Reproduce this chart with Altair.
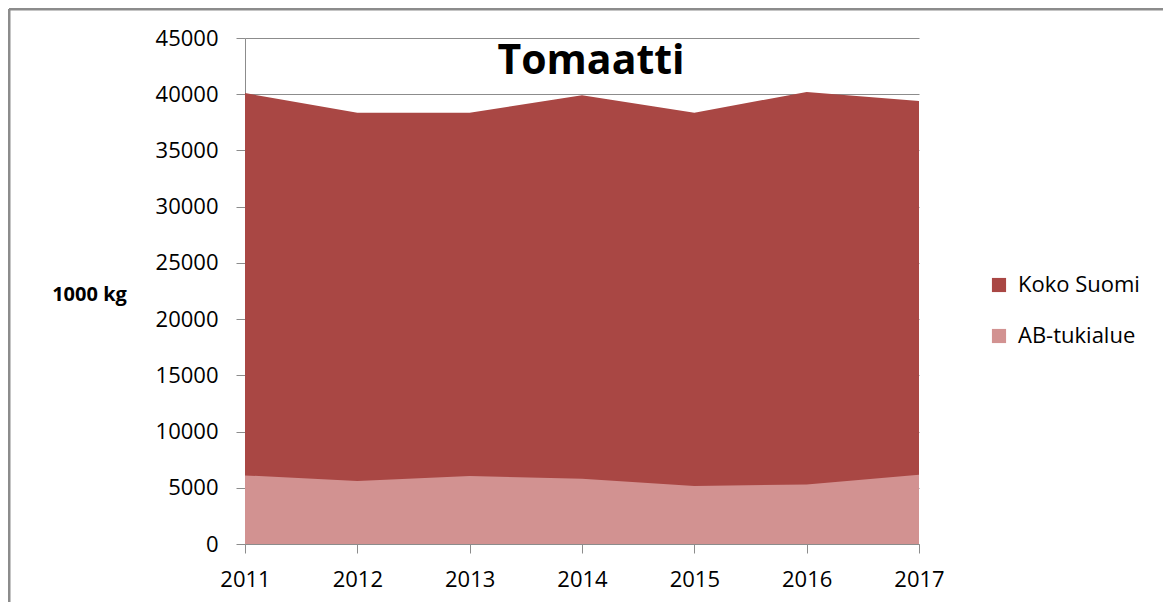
import altair as alt
import pandas as pd

years = [2011, 2012, 2013, 2014, 2015, 2016, 2017]
koko_suomi = [40100, 38350, 38350, 39900, 38350, 40200, 39400]
ab_tukialue = [6100, 5600, 6050, 5800, 5150, 5300, 6150]
series_names = ["Koko Suomi", "AB-tukialue"]
series_colors = ["#A94744", "#D29291"]

rows = []
for i, y in enumerate(years):
    rows.append({"Vuosi": y, "Sarja": series_names[0], "Arvo": koko_suomi[i], "ord": 0})
    rows.append({"Vuosi": y, "Sarja": series_names[1], "Arvo": ab_tukialue[i], "ord": 1})
df = pd.DataFrame(rows)
one = pd.DataFrame({"t": ["Tomaatti"]})

FONT = "Open Sans"

areas = alt.Chart(df).mark_area(opacity=1, interpolate="linear").encode(
    x=alt.X("Vuosi:Q", scale=alt.Scale(domain=[2011, 2017], nice=False, zero=False),
            axis=alt.Axis(values=years, format="d", title=None, grid=False,
                          labelFlush=False, labelOverlap=False,
                          labelFontSize=22, labelColor="#000000", labelPadding=16,
                          tickSize=9, tickColor="#8C8C8C", domainColor="#8C8C8C",
                          labelFont=FONT)),
    y=alt.Y("Arvo:Q", stack=None, scale=alt.Scale(domain=[0, 45000], nice=False),
            axis=alt.Axis(values=list(range(0, 45001, 5000)), format="d", title="1000 kg",
                          titleAngle=0, titleFontSize=20, titleFontWeight="bold",
                          titleFont=FONT, titleColor="#000000",
                          titleX=-156, titleY=256, titleAlign="center", titleBaseline="middle",
                          labelFontSize=22, labelColor="#000000", labelFont=FONT,
                          labelPadding=18, tickSize=9, tickColor="#8C8C8C",
                          labelOverlap=False,
                          domainColor="#8C8C8C", gridColor="#8C8C8C", gridWidth=1)),
    color=alt.Color("Sarja:N", scale=alt.Scale(domain=series_names, range=series_colors),
                    legend=alt.Legend(title=None, orient="none", legendX=743, legendY=236,
                                      symbolType="square", symbolSize=200,
                                      symbolStrokeWidth=0, labelFontSize=22,
                                      labelFont=FONT, labelColor="#000000",
                                      rowPadding=29, labelOffset=8)),
    order=alt.Order("ord:Q"),
)

title = alt.Chart(one).mark_text(fontSize=41, fontWeight="bold", font=FONT,
                                 color="#000000", baseline="middle", align="center").encode(
    text="t:N", x=alt.value(346), y=alt.value(24)
)

frame_top = alt.Chart(one).mark_rule(color="#8C8C8C", strokeWidth=3).encode(
    x=alt.value(-236), x2=alt.value(920), y=alt.value(-29)
)
frame_left = alt.Chart(one).mark_rule(color="#8C8C8C", strokeWidth=3).encode(
    x=alt.value(-236), y=alt.value(-29), y2=alt.value(570)
)

chart = alt.layer(areas, title, frame_top, frame_left).properties(
    width=674, height=506,
    autosize=alt.AutoSizeParams(type="none"),
    padding={"left": 237, "top": 30, "right": 244, "bottom": 58},
).configure_view(stroke=None).configure_axis(domainWidth=1, tickWidth=1)

chart.save("out.html", embed_options={"renderer": "svg", "actions": False})
